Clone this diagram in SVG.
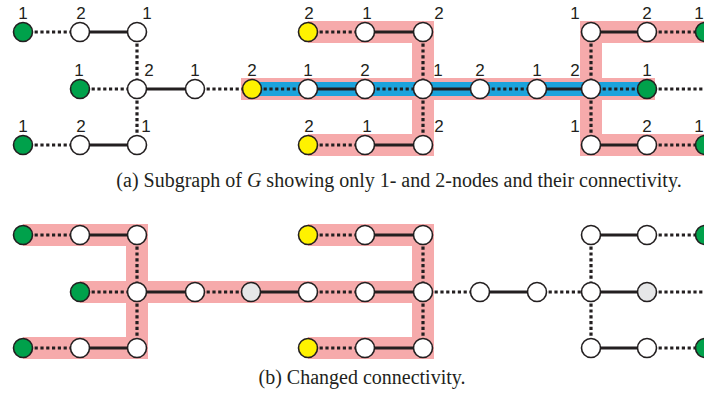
<svg xmlns="http://www.w3.org/2000/svg" width="704" height="397" viewBox="0 0 704 397">
  <style>
    .bg { fill: #ffffff; }
    .hl { fill: none; stroke: #f6aaab; stroke-width: 22; stroke-linejoin: miter; stroke-linecap: butt; }
    .bl { fill: none; stroke: #1ba3dc; stroke-width: 14; stroke-linecap: butt; }
    .s { fill: none; stroke: #231f20; stroke-width: 3; }
    .d { fill: none; stroke: #231f20; stroke-width: 3.2; stroke-dasharray: 3.2 2.6; }
    circle { stroke: #231f20; stroke-width: 1.6; }
    .w { fill: #ffffff; }
    .gn { fill: #00a14b; }
    .yl { fill: #fff200; }
    .gy { fill: #e6e7e8; }
    .lb { font-family: "Liberation Sans", Arial, sans-serif; font-size: 17px; fill: #231f20; text-anchor: middle; }
    .cap { font-family: "Liberation Serif", "Times New Roman", serif; font-size: 20px; fill: #231f20; text-anchor: middle; }
  </style>

  <rect class="bg" x="0" y="0" width="704" height="397"/>

  <!-- (a) highlighted paths -->
  <g id="highlights-a">
    <path class="hl" d="M308,32 H423 V145 H308"/>
    <path class="hl" d="M706,32 H591 V145 H706"/>
    <path class="hl" d="M241,89 H655"/>
    <path class="bl" d="M245,89 H652"/>
  </g>

  <!-- (b) highlighted paths -->
  <g id="highlights-b">
    <path class="hl" d="M23,235 H137 V348 H23"/>
    <path class="hl" d="M80,292 H423"/>
    <path class="hl" d="M308,235 H423 V348 H308"/>
  </g>

  <!-- connectors -->
  <g id="connectors">
    <!-- (a) left group -->
    <line class="d" x1="23" y1="32" x2="80" y2="32"/>
    <line class="s" x1="80" y1="32" x2="137" y2="32"/>
    <line class="d" x1="137" y1="32" x2="137" y2="89"/>
    <line class="d" x1="137" y1="89" x2="137" y2="145"/>
    <line class="d" x1="23" y1="145" x2="80" y2="145"/>
    <line class="s" x1="80" y1="145" x2="137" y2="145"/>
    <line class="d" x1="80" y1="89" x2="137" y2="89"/>
    <line class="s" x1="137" y1="89" x2="195" y2="89"/>
    <line class="d" x1="195" y1="89" x2="252" y2="89"/>
    <!-- (a) middle row -->
    <line class="d" x1="252" y1="89" x2="308" y2="89"/>
    <line class="s" x1="308" y1="89" x2="365" y2="89"/>
    <line class="d" x1="365" y1="89" x2="423" y2="89"/>
    <line class="s" x1="423" y1="89" x2="480" y2="89"/>
    <line class="d" x1="480" y1="89" x2="537" y2="89"/>
    <line class="s" x1="537" y1="89" x2="591" y2="89"/>
    <line class="d" x1="591" y1="89" x2="647" y2="89"/>
    <line class="d" x1="647" y1="89" x2="704" y2="89"/>
    <!-- (a) middle group -->
    <line class="d" x1="308" y1="32" x2="365" y2="32"/>
    <line class="s" x1="365" y1="32" x2="423" y2="32"/>
    <line class="d" x1="423" y1="32" x2="423" y2="89"/>
    <line class="d" x1="423" y1="89" x2="423" y2="145"/>
    <line class="d" x1="308" y1="145" x2="365" y2="145"/>
    <line class="s" x1="365" y1="145" x2="423" y2="145"/>
    <!-- (a) right group -->
    <line class="s" x1="591" y1="32" x2="647" y2="32"/>
    <line class="d" x1="647" y1="32" x2="704" y2="32"/>
    <line class="d" x1="591" y1="32" x2="591" y2="89"/>
    <line class="d" x1="591" y1="89" x2="591" y2="145"/>
    <line class="s" x1="591" y1="145" x2="647" y2="145"/>
    <line class="d" x1="647" y1="145" x2="704" y2="145"/>

    <!-- (b) left group -->
    <line class="d" x1="23" y1="235" x2="80" y2="235"/>
    <line class="s" x1="80" y1="235" x2="137" y2="235"/>
    <line class="d" x1="137" y1="235" x2="137" y2="292"/>
    <line class="d" x1="137" y1="292" x2="137" y2="348"/>
    <line class="d" x1="23" y1="348" x2="80" y2="348"/>
    <line class="s" x1="80" y1="348" x2="137" y2="348"/>
    <line class="d" x1="80" y1="292" x2="137" y2="292"/>
    <line class="s" x1="137" y1="292" x2="195" y2="292"/>
    <line class="d" x1="195" y1="292" x2="251" y2="292"/>
    <!-- (b) middle row -->
    <line class="s" x1="251" y1="292" x2="308" y2="292"/>
    <line class="d" x1="308" y1="292" x2="365" y2="292"/>
    <line class="s" x1="365" y1="292" x2="423" y2="292"/>
    <line class="d" x1="423" y1="292" x2="480" y2="292"/>
    <line class="s" x1="480" y1="292" x2="537" y2="292"/>
    <line class="d" x1="537" y1="292" x2="591" y2="292"/>
    <line class="s" x1="591" y1="292" x2="647" y2="292"/>
    <line class="d" x1="647" y1="292" x2="704" y2="292"/>
    <!-- (b) middle group -->
    <line class="d" x1="308" y1="235" x2="365" y2="235"/>
    <line class="s" x1="365" y1="235" x2="423" y2="235"/>
    <line class="d" x1="423" y1="235" x2="423" y2="292"/>
    <line class="d" x1="423" y1="292" x2="423" y2="348"/>
    <line class="d" x1="308" y1="348" x2="365" y2="348"/>
    <line class="s" x1="365" y1="348" x2="423" y2="348"/>
    <!-- (b) right group -->
    <line class="s" x1="591" y1="235" x2="647" y2="235"/>
    <line class="d" x1="647" y1="235" x2="704" y2="235"/>
    <line class="d" x1="591" y1="235" x2="591" y2="292"/>
    <line class="d" x1="591" y1="292" x2="591" y2="348"/>
    <line class="s" x1="591" y1="348" x2="647" y2="348"/>
    <line class="d" x1="647" y1="348" x2="704" y2="348"/>
  </g>

  <!-- (a) nodes with degree labels -->
  <g id="nodes-a">
    <g id="a-r1-c1"><circle class="gn" cx="23" cy="32" r="9.5"/><text class="lb" x="23" y="19">1</text></g>
    <g id="a-r1-c2"><circle class="w" cx="80" cy="32" r="9.5"/><text class="lb" x="81" y="19">2</text></g>
    <g id="a-r1-c3"><circle class="w" cx="137" cy="32" r="9.5"/><text class="lb" x="147" y="19">1</text></g>
    <g id="a-r2-c2"><circle class="gn" cx="80" cy="89" r="9.5"/><text class="lb" x="79" y="76">1</text></g>
    <g id="a-r2-c3"><circle class="w" cx="137" cy="89" r="9.5"/><text class="lb" x="149" y="76">2</text></g>
    <g id="a-r2-c4"><circle class="w" cx="195" cy="89" r="9.5"/><text class="lb" x="195" y="76">1</text></g>
    <g id="a-r3-c1"><circle class="gn" cx="23" cy="145" r="9.5"/><text class="lb" x="23" y="132">1</text></g>
    <g id="a-r3-c2"><circle class="w" cx="80" cy="145" r="9.5"/><text class="lb" x="81" y="132">2</text></g>
    <g id="a-r3-c3"><circle class="w" cx="137" cy="145" r="9.5"/><text class="lb" x="146" y="132">1</text></g>

    <g id="a-r2-c5"><circle class="yl" cx="252" cy="89" r="9.5"/><text class="lb" x="252" y="76">2</text></g>
    <g id="a-r2-c6"><circle class="w" cx="308" cy="89" r="9.5"/><text class="lb" x="308" y="76">1</text></g>
    <g id="a-r2-c7"><circle class="w" cx="365" cy="89" r="9.5"/><text class="lb" x="365" y="76">2</text></g>
    <g id="a-r2-c8"><circle class="w" cx="423" cy="89" r="9.5"/><text class="lb" x="438" y="76">1</text></g>
    <g id="a-r1-c6"><circle class="yl" cx="308" cy="32" r="9.5"/><text class="lb" x="309" y="19">2</text></g>
    <g id="a-r1-c7"><circle class="w" cx="365" cy="32" r="9.5"/><text class="lb" x="367" y="19">1</text></g>
    <g id="a-r1-c8"><circle class="w" cx="423" cy="32" r="9.5"/><text class="lb" x="439" y="19">2</text></g>
    <g id="a-r3-c6"><circle class="yl" cx="308" cy="145" r="9.5"/><text class="lb" x="309" y="132">2</text></g>
    <g id="a-r3-c7"><circle class="w" cx="365" cy="145" r="9.5"/><text class="lb" x="367" y="132">1</text></g>
    <g id="a-r3-c8"><circle class="w" cx="423" cy="145" r="9.5"/><text class="lb" x="439" y="132">2</text></g>

    <g id="a-r2-c9"><circle class="w" cx="480" cy="89" r="9.5"/><text class="lb" x="480" y="76">2</text></g>
    <g id="a-r2-c10"><circle class="w" cx="537" cy="89" r="9.5"/><text class="lb" x="537" y="76">1</text></g>
    <g id="a-r2-c11"><circle class="w" cx="591" cy="89" r="9.5"/><text class="lb" x="575" y="76">2</text></g>
    <g id="a-r2-c12"><circle class="gn" cx="647" cy="89" r="9.5"/><text class="lb" x="647" y="76">1</text></g>
    <g id="a-r1-c11"><circle class="w" cx="591" cy="32" r="9.5"/><text class="lb" x="575" y="19">1</text></g>
    <g id="a-r1-c12"><circle class="w" cx="647" cy="32" r="9.5"/><text class="lb" x="647" y="19">2</text></g>
    <g id="a-r1-c13"><circle class="gn" cx="705" cy="32" r="9.5"/><text class="lb" x="699" y="19">1</text></g>
    <g id="a-r3-c11"><circle class="w" cx="591" cy="145" r="9.5"/><text class="lb" x="575" y="132">1</text></g>
    <g id="a-r3-c12"><circle class="w" cx="647" cy="145" r="9.5"/><text class="lb" x="647" y="132">2</text></g>
    <g id="a-r3-c13"><circle class="gn" cx="705" cy="145" r="9.5"/><text class="lb" x="699" y="132">1</text></g>
  </g>

  <!-- (b) nodes -->
  <g id="nodes-b">
    <g id="b-r1-c1"><circle class="gn" cx="23" cy="235" r="9.5"/></g>
    <g id="b-r1-c2"><circle class="w" cx="80" cy="235" r="9.5"/></g>
    <g id="b-r1-c3"><circle class="w" cx="137" cy="235" r="9.5"/></g>
    <g id="b-r2-c2"><circle class="gn" cx="80" cy="292" r="9.5"/></g>
    <g id="b-r2-c3"><circle class="w" cx="137" cy="292" r="9.5"/></g>
    <g id="b-r2-c4"><circle class="w" cx="195" cy="292" r="9.5"/></g>
    <g id="b-r3-c1"><circle class="gn" cx="23" cy="348" r="9.5"/></g>
    <g id="b-r3-c2"><circle class="w" cx="80" cy="348" r="9.5"/></g>
    <g id="b-r3-c3"><circle class="w" cx="137" cy="348" r="9.5"/></g>

    <g id="b-r2-c5"><circle class="gy" cx="251" cy="292" r="9.5"/></g>
    <g id="b-r2-c6"><circle class="w" cx="308" cy="292" r="9.5"/></g>
    <g id="b-r2-c7"><circle class="w" cx="365" cy="292" r="9.5"/></g>
    <g id="b-r2-c8"><circle class="w" cx="423" cy="292" r="9.5"/></g>
    <g id="b-r1-c6"><circle class="yl" cx="308" cy="235" r="9.5"/></g>
    <g id="b-r1-c7"><circle class="w" cx="365" cy="235" r="9.5"/></g>
    <g id="b-r1-c8"><circle class="w" cx="423" cy="235" r="9.5"/></g>
    <g id="b-r3-c6"><circle class="yl" cx="308" cy="348" r="9.5"/></g>
    <g id="b-r3-c7"><circle class="w" cx="365" cy="348" r="9.5"/></g>
    <g id="b-r3-c8"><circle class="w" cx="423" cy="348" r="9.5"/></g>

    <g id="b-r2-c9"><circle class="w" cx="480" cy="292" r="9.5"/></g>
    <g id="b-r2-c10"><circle class="w" cx="537" cy="292" r="9.5"/></g>
    <g id="b-r2-c11"><circle class="w" cx="591" cy="292" r="9.5"/></g>
    <g id="b-r2-c12"><circle class="gy" cx="647" cy="292" r="9.5"/></g>
    <g id="b-r1-c11"><circle class="w" cx="591" cy="235" r="9.5"/></g>
    <g id="b-r1-c12"><circle class="w" cx="647" cy="235" r="9.5"/></g>
    <g id="b-r1-c13"><circle class="gn" cx="705" cy="235" r="9.5"/></g>
    <g id="b-r3-c11"><circle class="w" cx="591" cy="348" r="9.5"/></g>
    <g id="b-r3-c12"><circle class="w" cx="647" cy="348" r="9.5"/></g>
    <g id="b-r3-c13"><circle class="gn" cx="705" cy="348" r="9.5"/></g>
  </g>

  <!-- captions -->
  <g id="captions">
    <text class="cap" x="399" y="187">(a) Subgraph of <tspan font-style="italic">G</tspan> showing only 1- and 2-nodes and their connectivity.</text>
    <text class="cap" x="362" y="384">(b) Changed connectivity.</text>
  </g>
</svg>
